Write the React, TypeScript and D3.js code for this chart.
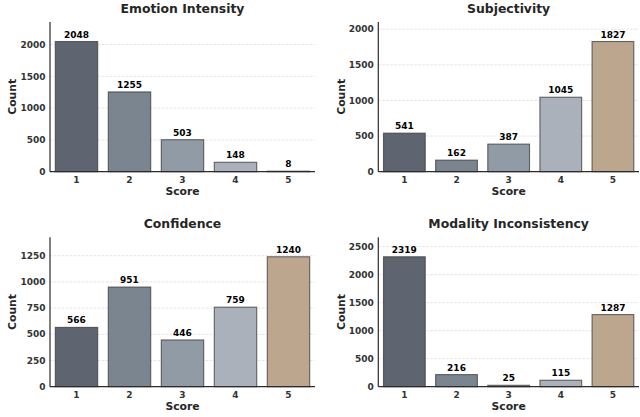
import React from "react";
import * as d3 from "d3";

const scores = ["1", "2", "3", "4", "5"];
const titles = ["Emotion Intensity", "Subjectivity", "Confidence", "Modality Inconsistency"];
const emotionIntensity = [2048, 1255, 503, 148, 8];
const subjectivity = [541, 162, 387, 1045, 1827];
const confidence = [566, 951, 446, 759, 1240];
const modalityInconsistency = [2319, 216, 25, 115, 1287];
const ticks1 = [0, 500, 1000, 1500, 2000];
const ticks2 = [0, 500, 1000, 1500, 2000];
const ticks3 = [0, 250, 500, 750, 1000, 1250];
const ticks4 = [0, 500, 1000, 1500, 2000, 2500];
const barColors = ["#5e6570", "#7b858f", "#919ba5", "#aab1ba", "#bca78e"];

const panels = [
  { title: titles[0], values: emotionIntensity, ticks: ticks1, left: 50, right: 315, top: 22, bottom: 171.7 },
  { title: titles[1], values: subjectivity, ticks: ticks2, left: 378.3, right: 639, top: 22, bottom: 171.7 },
  { title: titles[2], values: confidence, ticks: ticks3, left: 50, right: 315, top: 237.3, bottom: 386.7 },
  { title: titles[3], values: modalityInconsistency, ticks: ticks4, left: 378.3, right: 639, top: 237.3, bottom: 386.7 },
];

const FONT = "DejaVu Sans";

function Panel({ p }: { p: typeof panels[number] }) {
  const max = d3.max(p.values) as number;
  const y = d3.scaleLinear().domain([0, max * 1.15]).range([p.bottom, p.top]);
  const x = d3.scaleBand().domain(scores).range([p.left, p.right]).paddingInner(0.2).paddingOuter(0.1);
  const cx = (p.left + p.right) / 2;
  return (
    <g>
      {p.ticks.filter((t) => t > 0).map((t) => (
        <line key={"g" + t} x1={p.left} x2={p.right} y1={y(t)} y2={y(t)} stroke="#dcdcdc" strokeWidth={0.8} strokeDasharray="2.5,1.5" />
      ))}
      {p.values.map((v, i) => (
        <rect
          key={"b" + i}
          x={x(scores[i])}
          y={y(v)}
          width={x.bandwidth()}
          height={p.bottom - y(v)}
          fill={barColors[i]}
          stroke="#3a3a3a"
          strokeOpacity={0.75}
          strokeWidth={1.1}
        />
      ))}
      {p.values.map((v, i) => (
        <text
          key={"v" + i}
          x={(x(scores[i]) as number) + x.bandwidth() / 2}
          y={y(v) - 4}
          textAnchor="middle"
          fontFamily={FONT}
          fontWeight="bold"
          fontSize={9}
          fill="#000"
        >
          {v}
        </text>
      ))}
      <line x1={p.left} x2={p.left} y1={p.top} y2={p.bottom} stroke="#2b2b2b" strokeWidth={1.2} />
      <line x1={p.left} x2={p.right} y1={p.bottom} y2={p.bottom} stroke="#2b2b2b" strokeWidth={1.2} />
      {p.ticks.map((t) => (
        <text key={"t" + t} x={p.left - 4.5} y={y(t)} dy="0.35em" textAnchor="end" fontFamily={FONT} fontWeight="bold" fontSize={9} fill="#333">
          {t}
        </text>
      ))}
      {scores.map((s) => (
        <text key={"s" + s} x={(x(s) as number) + x.bandwidth() / 2} y={p.bottom + 11} textAnchor="middle" fontFamily={FONT} fontWeight="bold" fontSize={9} fill="#333">
          {s}
        </text>
      ))}
      <text x={cx} y={p.bottom + 23} textAnchor="middle" fontFamily={FONT} fontWeight="bold" fontSize={10.8} fill="#262626">
        Score
      </text>
      <text
        transform={`translate(${p.left - 37.5},${(p.top + p.bottom) / 2}) rotate(-90)`}
        textAnchor="middle"
        dy="0.35em"
        fontFamily={FONT}
        fontWeight="bold"
        fontSize={10.8}
        fill="#262626"
      >
        Count
      </text>
      <text x={cx} y={p.top - 9.5} textAnchor="middle" fontFamily={FONT} fontWeight="bold" fontSize={12.4} fill="#262626">
        {p.title}
      </text>
    </g>
  );
}

export default function App() {
  return (
    <svg width={640} height={417} style={{ position: "absolute", left: 0, top: 0, background: "#fff" }}>
      <rect width={640} height={417} fill="#fff" />
      {panels.map((p) => (
        <Panel key={p.title} p={p} />
      ))}
    </svg>
  );
}
